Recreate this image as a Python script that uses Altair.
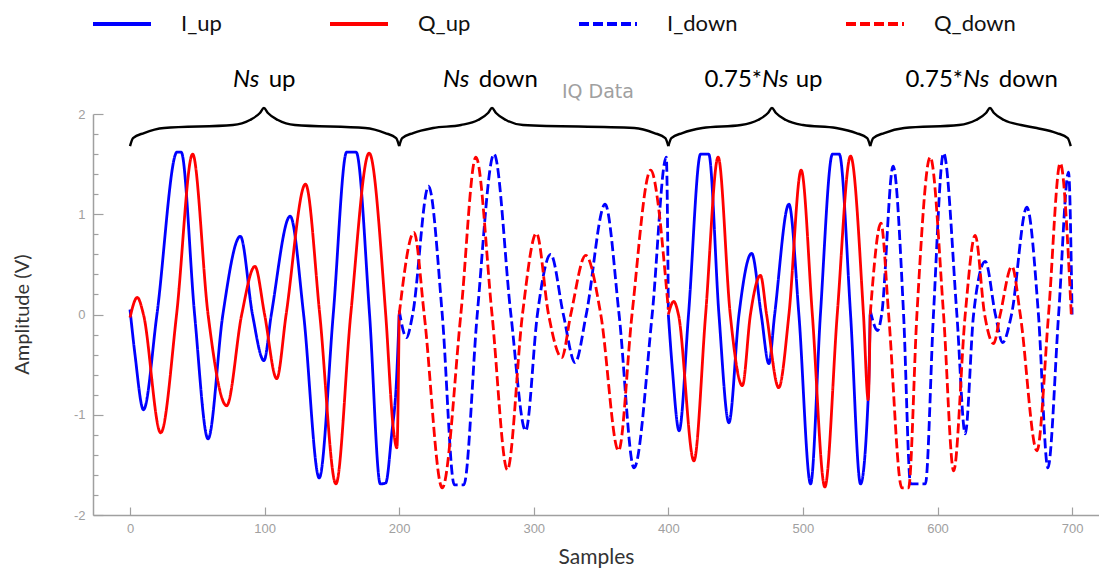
import altair as alt
import pandas as pd

# ---------------- series definitions ----------------
SERIES = ["I_up", "Q_up", "I_down", "Q_down"]
SERIES_COLORS = ["#0000ff", "#ff0000", "#0000ff", "#ff0000"]
SERIES_DASH = [[1, 0], [1, 0], [10, 4], [10, 4]]

# I_up, samples 0-200
i_up_1_x = [0, 3.7, 10, 20, 35, 38, 48, 58, 69, 82, 91, 99.5, 105, 119, 129, 140.6, 151, 161, 168, 178, 186, 190, 194.4, 198, 200]
i_up_1_y = [0.05, -0.40, -0.95, 0.0, 1.62, 1.62, 0.0, -1.24, 0.0, 0.78, 0.0, -0.46, 0.0, 0.98, 0.0, -1.63, 0.0, 1.62, 1.62, 0.0, -1.69, -1.68, -1.2, -0.66, 0.0]
# Q_up, samples 0-200
q_up_1_x = [0, 5.4, 10, 22.8, 34.6, 46.5, 58, 71.8, 83, 92.8, 100, 109, 116, 130.4, 141, 153, 164, 177.7, 190, 195.6, 198.3, 200]
q_up_1_y = [-0.03, 0.17, 0.0, -1.18, 0.0, 1.60, 0.0, -0.91, 0.0, 0.48, 0.0, -0.64, 0.0, 1.30, 0.0, -1.69, 0.0, 1.61, 0.0, -1.13, -1.33, 0.0]
# I_down, samples 200-400
i_down_1_x = [200, 205.4, 210, 221.8, 232, 241, 248, 258, 270.5, 283, 294, 302.7, 312.6, 322, 330.7, 339, 353, 363.4, 374.5, 388, 398.5, 400]
i_down_1_y = [0.04, -0.23, 0.0, 1.28, 0.0, -1.70, -1.70, 0.0, 1.60, 0.0, -1.16, 0.0, 0.60, 0.0, -0.48, 0.0, 1.10, 0.0, -1.53, 0.0, 1.57, 0.05]
# Q_down, samples 200-400
q_down_1_x = [200, 211, 218.6, 232, 245.8, 257, 269, 280.4, 291.6, 302, 311, 320.8, 327.5, 338.6, 349.8, 363, 373, 386.9, 393, 397, 400]
q_down_1_y = [0.0, 0.82, 0.0, -1.73, 0.0, 1.57, 0.0, -1.55, 0.0, 0.81, 0.0, -0.43, 0.0, 0.59, 0.0, -1.36, 0.0, 1.44, 1.04, 0.5, 0.05]
# I_up, samples 400-550
i_up_2_x = [400, 402.9, 408, 415, 424, 430, 437.6, 445, 452.5, 461.9, 469, 474.7, 479, 489.6, 497, 505.7, 513, 522, 527, 535.4, 542.8, 548.5, 550]
i_up_2_y = [0.0, -0.53, -1.16, 0.0, 1.60, 1.60, 0.0, -1.08, 0.0, 0.61, 0.0, -0.49, 0.0, 1.10, 0.0, -1.69, 0.0, 1.60, 1.60, 0.0, -1.69, -0.83, 0.0]
# Q_up, samples 400-550
q_up_2_x = [400, 404, 407.5, 419, 427.7, 437, 446, 455, 461, 468.5, 473, 482, 489.6, 498.7, 507, 516.3, 525.5, 535.4, 545, 548.5, 550]
q_up_2_y = [0.0, 0.13, 0.0, -1.46, 0.0, 1.57, 0.0, -0.71, 0.0, 0.39, 0.0, -0.73, 0.0, 1.44, 0.0, -1.72, 0.0, 1.58, 0.0, -0.85, 0.0]
# I_down, samples 550-700
i_down_2_x = [550, 555.5, 558.5, 567, 574.8, 580, 591, 597, 604.5, 614.4, 620.6, 626.8, 635.5, 643, 648.4, 655, 666.4, 675, 682, 690, 697.4, 700]
i_down_2_y = [0.04, -0.16, 0.0, 1.48, 0.0, -1.69, -1.69, 0.0, 1.61, 0.0, -1.19, 0.0, 0.53, 0.0, -0.28, 0.0, 1.07, 0.0, -1.53, 0.0, 1.42, 0.0]
# Q_down, samples 550-700
q_down_2_x = [550, 558, 563.7, 573.5, 578.5, 584.7, 594.6, 604.5, 612, 620.6, 628, 635, 641.7, 646.6, 655.3, 661.5, 673.9, 682.5, 691.2, 699.4]
q_down_2_y = [0.0, 0.91, 0.0, -1.73, -1.73, 0.0, 1.57, 0.0, -1.56, 0.0, 0.79, 0.0, -0.29, 0.0, 0.48, 0.0, -1.36, 0.0, 1.51, 0.0]

segments = [
    ("I_up", "I_up_1", i_up_1_x, i_up_1_y),
    ("Q_up", "Q_up_1", q_up_1_x, q_up_1_y),
    ("I_down", "I_down_1", i_down_1_x, i_down_1_y),
    ("Q_down", "Q_down_1", q_down_1_x, q_down_1_y),
    ("I_up", "I_up_2", i_up_2_x, i_up_2_y),
    ("Q_up", "Q_up_2", q_up_2_x, q_up_2_y),
    ("I_down", "I_down_2", i_down_2_x, i_down_2_y),
    ("Q_down", "Q_down_2", q_down_2_x, q_down_2_y),
]
rows = []
for name, seg, xs_, ys_ in segments:
    for xv, yv in zip(xs_, ys_):
        rows.append({"series": name, "seg": seg, "sample": xv, "amp": yv})
lines_df = pd.DataFrame(rows)

# ---------------- axes ----------------
X_DOMAIN = [-27.5, 720]
Y_DOMAIN = [-2, 2]
PLOT_W, PLOT_H = 1006, 401
X_TICKS = [0, 100, 200, 300, 400, 500, 600, 700]
Y_LABEL_TICKS = [-2, -1, 0, 1, 2]
Y_MINOR_TICKS = [-2, -1.8, -1.6, -1.4, -1.2, -1, -0.8, -0.6, -0.4, -0.2, 0,
                 0.2, 0.4, 0.6, 0.8, 1, 1.2, 1.4, 1.6, 1.8, 2]
GREY = "#a0a0a0"

# ---------------- braces (annotation) ----------------
brace_start = [0, 200, 400, 550]
brace_end = [200, 400, 550, 699]
brace_tip = [99.5, 269, 477, 639]
end_dx_px = [0, 3, 14, 34]
end_y = [1.68, 1.76, 1.81, 1.86]
tip_dx_px = [31, 14, 4, 0]
tip_y = [1.89, 1.94, 2.01, 2.06]
px_per_sample = PLOT_W / (X_DOMAIN[1] - X_DOMAIN[0])
brows = []
for i, (a, b, t) in enumerate(zip(brace_start, brace_end, brace_tip)):
    pts = []
    for d, yv in zip(end_dx_px, end_y):
        pts.append((a + d / px_per_sample, yv))
    for d, yv in zip(tip_dx_px, tip_y):
        pts.append((t - d / px_per_sample, yv))
    for d, yv in zip(reversed(tip_dx_px[:-1]), reversed(tip_y[:-1])):
        pts.append((t + d / px_per_sample, yv))
    for d, yv in zip(reversed(end_dx_px), reversed(end_y)):
        pts.append((b - d / px_per_sample, yv))
    for k, (xv, yv) in enumerate(pts):
        brows.append({"brace": i, "order": k, "sample": xv, "amp": yv})
brace_df = pd.DataFrame(brows)

# ---------------- annotation labels ----------------
lbl_italic_text = ["Ns", "Ns", "Ns", "Ns"]
lbl_italic_x = [76.5, 232.6, 469.6, 619.0]
lbl_regular_text = ["up", "down", "up", "down"]
lbl_regular_x = [103.0, 259.1, 494.6, 645.5]
lbl_prefix_text = ["0.75*", "0.75*"]
lbl_prefix_x = [469.6, 619.0]
LABEL_Y = 2.265
title_text = ["IQ Data"]
title_x = [347.7]
title_y = [2.155]

ital_df = pd.DataFrame({"t": lbl_italic_text, "sample": lbl_italic_x, "amp": [LABEL_Y] * 4})
reg_df = pd.DataFrame({"t": lbl_regular_text, "sample": lbl_regular_x, "amp": [LABEL_Y] * 4})
pre_df = pd.DataFrame({"t": lbl_prefix_text, "sample": lbl_prefix_x, "amp": [LABEL_Y] * 2})
ttl_df = pd.DataFrame({"t": title_text, "sample": title_x, "amp": title_y})

xs = alt.Scale(domain=X_DOMAIN, nice=False, zero=False)
ys = alt.Scale(domain=Y_DOMAIN, nice=False, zero=False)

legend = alt.Legend(
    orient="none", legendX=-2, legendY=-121, direction="horizontal", title=None,
    symbolType="stroke", symbolSize=3364, symbolStrokeWidth=4,
    labelFont="Lato", labelFontSize=22, labelColor="#111111",
    labelOffset=28, columnPadding=100, labelLimit=300,
)

x_main = alt.Axis(
    orient="bottom", values=X_TICKS, ticks=False, tickSize=0, grid=False,
    domainColor=GREY, domainWidth=1.5, labelColor=GREY, labelFont="Liberation Sans",
    labelFontSize=13, labelPadding=7, labelExpr="'' + datum.value",
    title="Samples", titleFont="Lato", titleFontSize=21, titleFontWeight="normal",
    titleColor="#333333", titleX=503, titleY=42, titleAlign="center", titleBaseline="middle",
)
y_main = alt.Axis(
    orient="left", values=Y_LABEL_TICKS, ticks=False, tickSize=0, grid=False,
    domainColor=GREY, domainWidth=1.5, labelColor=GREY, labelFont="Liberation Sans",
    labelFontSize=13, labelPadding=8, labelExpr="'' + datum.value",
    title="Amplitude (V)", titleFont="Lato", titleFontSize=20, titleFontWeight="normal",
    titleColor="#333333", titleAngle=270, titleX=-71, titleY=200, titleAlign="center",
    titleBaseline="middle",
)
x_ticks = alt.Axis(
    orient="top", offset=-PLOT_H, values=X_TICKS, labels=False, domain=False, grid=False,
    ticks=True, tickSize=8, tickColor=GREY, tickWidth=1.2, title=None,
)
y_ticks = alt.Axis(
    orient="right", offset=-PLOT_W, values=Y_MINOR_TICKS, labels=False, domain=False,
    grid=False, ticks=True,
    tickSize={"condition": {"test": "abs(datum.value - round(datum.value)) < 0.001", "value": 10}, "value": 5},
    tickColor=GREY, tickWidth=1.2, title=None,
)

lines = alt.Chart(lines_df).mark_line(strokeWidth=2.8, interpolate="monotone").encode(
    x=alt.X("sample:Q", scale=xs, axis=x_main),
    y=alt.Y("amp:Q", scale=ys, axis=y_main),
    color=alt.Color("series:N", scale=alt.Scale(domain=SERIES, range=SERIES_COLORS), legend=legend),
    strokeDash=alt.StrokeDash("series:N", scale=alt.Scale(domain=SERIES, range=SERIES_DASH), legend=legend),
    detail="seg:N",
    order="sample:Q",
)

braces = alt.Chart(brace_df).mark_line(color="black", strokeWidth=2.4, interpolate="monotone").encode(
    x=alt.X("sample:Q", scale=xs, axis=x_ticks),
    y=alt.Y("amp:Q", scale=ys, axis=y_ticks),
    detail="brace:N",
    order="order:Q",
)

def text_layer(df, **kw):
    return alt.Chart(df).mark_text(baseline="alphabetic", **kw).encode(
        x=alt.X("sample:Q", scale=xs, axis=None),
        y=alt.Y("amp:Q", scale=ys, axis=None),
        text="t:N",
    )

ital = text_layer(ital_df, align="left", font="Lato", fontSize=24, fontStyle="italic", color="black")
reg = text_layer(reg_df, align="left", font="Lato", fontSize=24, color="black")
pre = text_layer(pre_df, align="right", font="Lato", fontSize=24, color="black")
ttl = text_layer(ttl_df, align="center", font="DejaVu Sans", fontSize=19, color=GREY)

chart = alt.layer(lines, braces, ital, reg, pre, ttl).resolve_axis(
    x="independent", y="independent"
).properties(
    width=PLOT_W, height=PLOT_H,
    autosize=alt.AutoSizeParams(type="none"),
    padding={"left": 85, "top": 106, "right": 0, "bottom": 55},
).configure_view(strokeWidth=0)

chart.save("out.html", embed_options={"renderer": "svg", "actions": False})
